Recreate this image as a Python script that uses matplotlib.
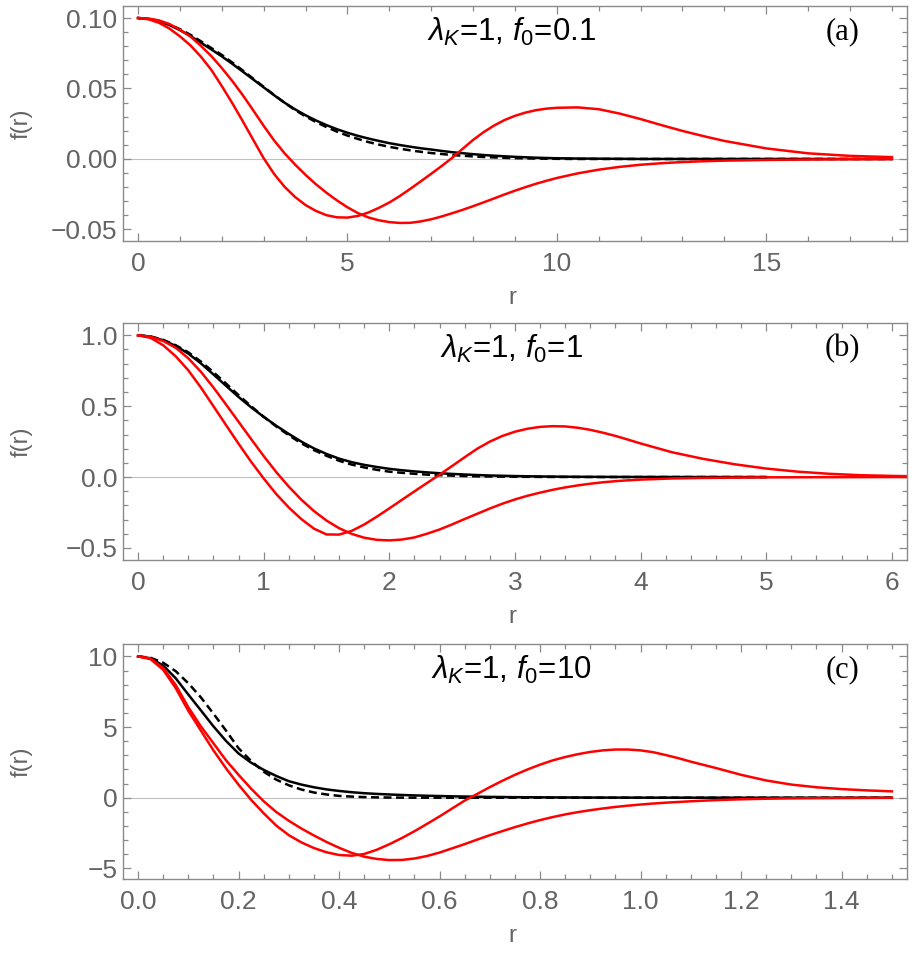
import numpy as np
import matplotlib
matplotlib.use("Agg")
import matplotlib.pyplot as plt
from matplotlib.ticker import MultipleLocator

plt.rcParams['font.family'] = ['Liberation Sans', 'DejaVu Sans']
plt.rcParams['mathtext.fontset'] = 'custom'
plt.rcParams['mathtext.rm'] = 'Liberation Sans'
plt.rcParams['mathtext.it'] = 'Liberation Sans:italic'

# ---- panel (a): lambda_K = 1, f0 = 0.1 ----
r_a = [0, 0.25, 0.5, 0.75, 1, 1.25, 1.5, 1.75, 2, 2.25, 2.5, 2.75, 3, 3.25, 3.5,
       3.75, 4, 4.25, 4.5, 4.75, 5, 5.25, 5.5, 5.75, 6, 6.25, 6.5, 6.75, 7, 7.25,
       7.5, 7.75, 8, 8.25, 8.5, 8.75, 9, 9.25, 9.5, 9.75, 10,
       10.5, 11, 11.5, 12, 12.5, 13, 13.5, 14, 15, 16, 17, 18]
black_a = [0.1, 0.0994, 0.0977, 0.0950, 0.0914, 0.0872, 0.0825, 0.0777, 0.0728,
           0.0675, 0.0620, 0.0564, 0.0508, 0.0452, 0.0399, 0.0352, 0.0310, 0.0273,
           0.0240, 0.0211, 0.0186, 0.0164, 0.0145, 0.0128, 0.0112, 0.0099, 0.0087,
           0.0076, 0.0067, 0.0057, 0.0048, 0.0041, 0.0034, 0.0028, 0.0023, 0.0019,
           0.0015, 0.0012, 0.0009, 0.0007, 0.0005,
           0.0003, 0.0002, 0.0001, 0, 0, 0, 0, 0, 0, 0, 0, 0]
dashed_a = [0.1, 0.0995, 0.0979, 0.0954, 0.0921, 0.0881, 0.0835, 0.0787, 0.0738,
            0.0684, 0.0628, 0.0570, 0.0512, 0.0454, 0.0398, 0.0347, 0.0302, 0.0262,
            0.0226, 0.0194, 0.0166, 0.0142, 0.0120, 0.0102, 0.0086, 0.0073, 0.0061,
            0.0051, 0.0042, 0.0035, 0.0028, 0.0023, 0.0018, 0.0014, 0.0011, 0.0008,
            0.0006, 0.0004, 0.0003, 0.0002, 0.0001,
            0, 0, 0, 0, 0, 0, 0, 0, 0, 0, 0, 0]
red1_a = [0.1, 0.0991, 0.0966, 0.0925, 0.0870, 0.0806, 0.0726, 0.0632, 0.0517,
          0.0396, 0.0268, 0.0136, 0.0005, -0.0107, -0.0198, -0.0270, -0.0327,
          -0.0369, -0.0399, -0.0414, -0.0416, -0.0404, -0.0380, -0.0347, -0.0309,
          -0.0263, -0.0212, -0.0159, -0.0105, -0.0050, 0.0008, 0.0072, 0.0135,
          0.0190, 0.0237, 0.0276, 0.0306, 0.0329, 0.0346, 0.0357, 0.0363,
          0.0366, 0.0353, 0.0322, 0.0283, 0.0240, 0.0199, 0.0162, 0.0128, 0.0075,
          0.0040, 0.0022, 0.0013]
red2_a = [0.1, 0.0996, 0.0983, 0.0957, 0.0917, 0.0869, 0.0803, 0.0730, 0.0645,
          0.0553, 0.0453, 0.0345, 0.0235, 0.0131, 0.0040, -0.0040, -0.0113, -0.0180,
          -0.0240, -0.0294, -0.0343, -0.0384, -0.0415, -0.0435, -0.0448, -0.0454,
          -0.0453, -0.0443, -0.0428, -0.0408, -0.0385, -0.0361, -0.0335, -0.0308,
          -0.0280, -0.0252, -0.0225, -0.0200, -0.0176, -0.0155, -0.0135,
          -0.0102, -0.0076, -0.0056, -0.0041, -0.0030, -0.0022, -0.0016, -0.0012,
          -0.0007, -0.0004, -0.0002, -0.0001]

# ---- panel (b): lambda_K = 1, f0 = 1 ----
r_b = [0, 0.1, 0.2, 0.3, 0.4, 0.5, 0.6, 0.7, 0.8, 0.9, 1.0, 1.1, 1.2, 1.3, 1.4,
       1.5, 1.6, 1.7, 1.8, 1.9, 2.0, 2.1, 2.2, 2.3, 2.4, 2.5, 2.6, 2.7, 2.8, 2.9,
       3.0, 3.1, 3.2, 3.3, 3.4, 3.5, 3.6, 3.7, 3.8, 3.9, 4.0, 4.25, 4.5, 4.75,
       5.0, 5.25, 5.5, 5.75, 6.0, 6.2]
black_b = [1.0, 0.991, 0.965, 0.925, 0.871, 0.802, 0.724, 0.644, 0.565, 0.492,
           0.425, 0.362, 0.304, 0.250, 0.202, 0.163, 0.130, 0.105, 0.086, 0.071,
           0.058, 0.048, 0.040, 0.033, 0.027, 0.022, 0.018, 0.014, 0.011, 0.009,
           0.007, 0.0055, 0.0043, 0.0033, 0.0025, 0.0019, 0.0015, 0.0012, 0.001,
           0.0008, 0.0006, 0.0003, 0.0002, 0.0001, 0.0,
           np.nan, np.nan, np.nan, np.nan, np.nan]
dashed_b = [1.0, 0.992, 0.968, 0.930, 0.880, 0.815, 0.740, 0.660, 0.578, 0.500,
            0.425, 0.357, 0.295, 0.238, 0.190, 0.150, 0.115, 0.088, 0.068, 0.051,
            0.038, 0.030, 0.023, 0.017, 0.013, 0.010, 0.007, 0.005, 0.004, 0.003,
            0.002, 0.0015, 0.001, 0.0007, 0.0005, 0.0003, 0.0002, 0.0001, 0, 0,
            0, 0, 0, 0, 0, np.nan, np.nan, np.nan, np.nan, np.nan]
red1_b = [1.0, 0.982, 0.930, 0.852, 0.753, 0.632, 0.500, 0.367, 0.235, 0.108,
          -0.010, -0.120, -0.215, -0.297, -0.364, -0.405, -0.406, -0.380, -0.335,
          -0.280, -0.221, -0.161, -0.101, -0.042, 0.017, 0.078, 0.140, 0.200,
          0.250, 0.290, 0.320, 0.341, 0.354, 0.359, 0.357, 0.348, 0.333, 0.313,
          0.290, 0.264, 0.237, 0.175, 0.128, 0.090, 0.060, 0.038, 0.023, 0.013,
          0.008, 0.005]
red2_b = [1.0, 0.990, 0.960, 0.912, 0.838, 0.743, 0.632, 0.512, 0.390, 0.268,
          0.148, 0.035, -0.068, -0.160, -0.240, -0.307, -0.361, -0.401, -0.428,
          -0.443, -0.447, -0.441, -0.426, -0.400, -0.370, -0.334, -0.296, -0.259,
          -0.222, -0.188, -0.158, -0.132, -0.110, -0.090, -0.073, -0.059, -0.047,
          -0.037, -0.029, -0.023, -0.018, -0.010, -0.006, -0.004, -0.002, -0.0015,
          -0.001, -0.0005, 0.0, 0.0]

# ---- panel (c): lambda_K = 1, f0 = 10 ----
r_c = [0, 0.025, 0.05, 0.075, 0.1, 0.125, 0.15, 0.175, 0.2, 0.225, 0.25, 0.275,
       0.3, 0.325, 0.35, 0.375, 0.4, 0.425, 0.45, 0.475, 0.5, 0.525, 0.55, 0.575,
       0.6, 0.625, 0.65, 0.675, 0.7, 0.725, 0.75, 0.775, 0.8, 0.825, 0.85, 0.875,
       0.9, 0.925, 0.95, 0.975, 1.0, 1.025, 1.05, 1.075, 1.1, 1.15, 1.2, 1.25,
       1.3, 1.35, 1.4, 1.45, 1.5]
black_c = [10.0, 9.86, 9.35, 8.45, 7.30, 6.18, 5.05, 4.02, 3.13, 2.48, 1.97, 1.54,
           1.17, 0.93, 0.74, 0.59, 0.48, 0.39, 0.32, 0.27, 0.23, 0.195, 0.165,
           0.14, 0.12, 0.10, 0.085, 0.072, 0.06, 0.05, 0.04, 0.034, 0.028, 0.024,
           0.02, 0.017, 0.014, 0.012, 0.01, 0.008, 0.007, 0.006, 0.005, 0.0045,
           0.004, 0.003, 0.002, 0.0015, 0.001, 0.0008, 0.0006, 0.0005, 0.0004]
dashed_c = [10.0, 9.90, 9.55, 8.95, 8.10, 7.10, 5.95, 4.75, 3.50, 2.60, 1.84, 1.28,
            0.88, 0.58, 0.37, 0.23, 0.13, 0.08, 0.045, 0.025, 0.013, 0.007, 0.004,
            0.002, 0.001, 0, 0, 0, 0, 0, 0, 0, 0, 0, 0, 0, 0, 0, 0, 0, 0, 0, 0, 0,
            0, 0, 0, 0, 0, 0, 0, 0, 0]
red1_c = [10.0, 9.80, 9.05, 7.75, 6.15, 4.75, 3.35, 2.08, 0.92, -0.15, -1.10, -1.97,
          -2.65, -3.16, -3.56, -3.86, -4.05, -4.10, -3.98, -3.68, -3.29, -2.85,
          -2.37, -1.85, -1.32, -0.76, -0.20, 0.27, 0.75, 1.20, 1.62, 2.00, 2.34,
          2.64, 2.88, 3.08, 3.24, 3.35, 3.41, 3.41, 3.35, 3.22, 3.02, 2.80, 2.55,
          2.10, 1.62, 1.22, 0.93, 0.74, 0.61, 0.52, 0.45]
red2_c = [10.0, 9.85, 9.17, 7.97, 6.40, 5.05, 3.85, 2.65, 1.62, 0.64, -0.25, -1.01,
          -1.63, -2.18, -2.67, -3.13, -3.54, -3.90, -4.17, -4.33, -4.41, -4.40,
          -4.30, -4.12, -3.88, -3.58, -3.28, -2.96, -2.65, -2.36, -2.08, -1.82,
          -1.58, -1.37, -1.18, -1.02, -0.88, -0.76, -0.65, -0.56, -0.48, -0.41,
          -0.35, -0.30, -0.25, -0.17, -0.11, -0.07, -0.045, -0.03, -0.02, -0.012,
          -0.008]

panels = [
    dict(r=r_a, curves=(black_a, dashed_a, red1_a, red2_a), xlim=(-0.36, 18.36),
         ylim=(-0.0582, 0.1085), xt=[0, 5, 10, 15], xtl=['0', '5', '10', '15'],
         xminor=1, yt=[-0.05, 0, 0.05, 0.10], ytl=['\u22120.05', '0.00', '0.05', '0.10'],
         yminor=0.01, text=r'$\lambda_K$=1, $f_0$=0.1', tag='(a)'),
    dict(r=r_b, curves=(black_b, dashed_b, red1_b, red2_b), xlim=(-0.12, 6.12),
         ylim=(-0.585, 1.087), xt=[0, 1, 2, 3, 4, 5, 6], xtl=['0', '1', '2', '3', '4', '5', '6'],
         xminor=0.2, yt=[-0.5, 0, 0.5, 1.0], ytl=['\u22120.5', '0.0', '0.5', '1.0'],
         yminor=0.1, text=r'$\lambda_K$=1, $f_0$=1', tag='(b)'),
    dict(r=r_c, curves=(black_c, dashed_c, red1_c, red2_c), xlim=(-0.03, 1.53),
         ylim=(-5.75, 10.87), xt=[0, 0.2, 0.4, 0.6, 0.8, 1.0, 1.2, 1.4],
         xtl=['0.0', '0.2', '0.4', '0.6', '0.8', '1.0', '1.2', '1.4'],
         xminor=0.05, yt=[-5, 0, 5, 10], ytl=['\u22125', '0', '5', '10'],
         yminor=1, text=r'$\lambda_K$=1, $f_0$=10', tag='(c)'),
]

bottoms = [0.7487, 0.4161, 0.0834]
heights = [0.2450, 0.2471, 0.2450]

frame_col = '#8a8a8a'
label_col = '#646464'

fig = plt.figure(figsize=(9.15, 9.59), dpi=100)

for p, b, h in zip(panels, bottoms, heights):
    ax = fig.add_axes([0.1344, b, 0.8568, h])
    black, dashed, red1, red2 = p['curves']
    ax.axhline(0, color='#c0c0c0', lw=0.8, zorder=0)
    ax.plot(p['r'], black, color='black', lw=1.8)
    ax.plot(p['r'], dashed, color='black', lw=1.8, ls=(0, (3.2, 1.8)))
    ax.plot(p['r'], red1, color='red', lw=1.8)
    ax.plot(p['r'], red2, color='red', lw=1.8)

    ax.set_xlim(*p['xlim'])
    ax.set_ylim(*p['ylim'])
    ax.set_xticks(p['xt'], labels=p['xtl'])
    ax.set_yticks(p['yt'], labels=p['ytl'])
    ax.xaxis.set_minor_locator(MultipleLocator(p['xminor']))
    ax.yaxis.set_minor_locator(MultipleLocator(p['yminor']))
    ax.tick_params(which='both', direction='in', top=True, right=True,
                   color=frame_col, labelcolor=label_col, labelsize=19, width=0.9)
    ax.tick_params(which='major', length=6)
    ax.tick_params(which='minor', length=3.5)
    ax.tick_params(axis='x', pad=8)
    ax.tick_params(axis='y', pad=4)
    for s in ax.spines.values():
        s.set_color(frame_col)
        s.set_linewidth(1.0)

    ax.set_xlabel('r', fontsize=17, color=label_col)
    ax.set_ylabel('f(r)', fontsize=17, color=label_col)
    ax.xaxis.set_label_coords(0.497, -0.195)
    ax.yaxis.set_label_coords(-0.115, 0.5)

    ax.text(0.496, 0.89, p['text'], transform=ax.transAxes, ha='center',
            va='center', fontsize=22.5, color='black')
    ax.text(0.918, 0.89, p['tag'], transform=ax.transAxes, ha='center',
            va='center', fontsize=22, color='black', family='Liberation Serif')

fig.savefig('out.png', dpi=100)
